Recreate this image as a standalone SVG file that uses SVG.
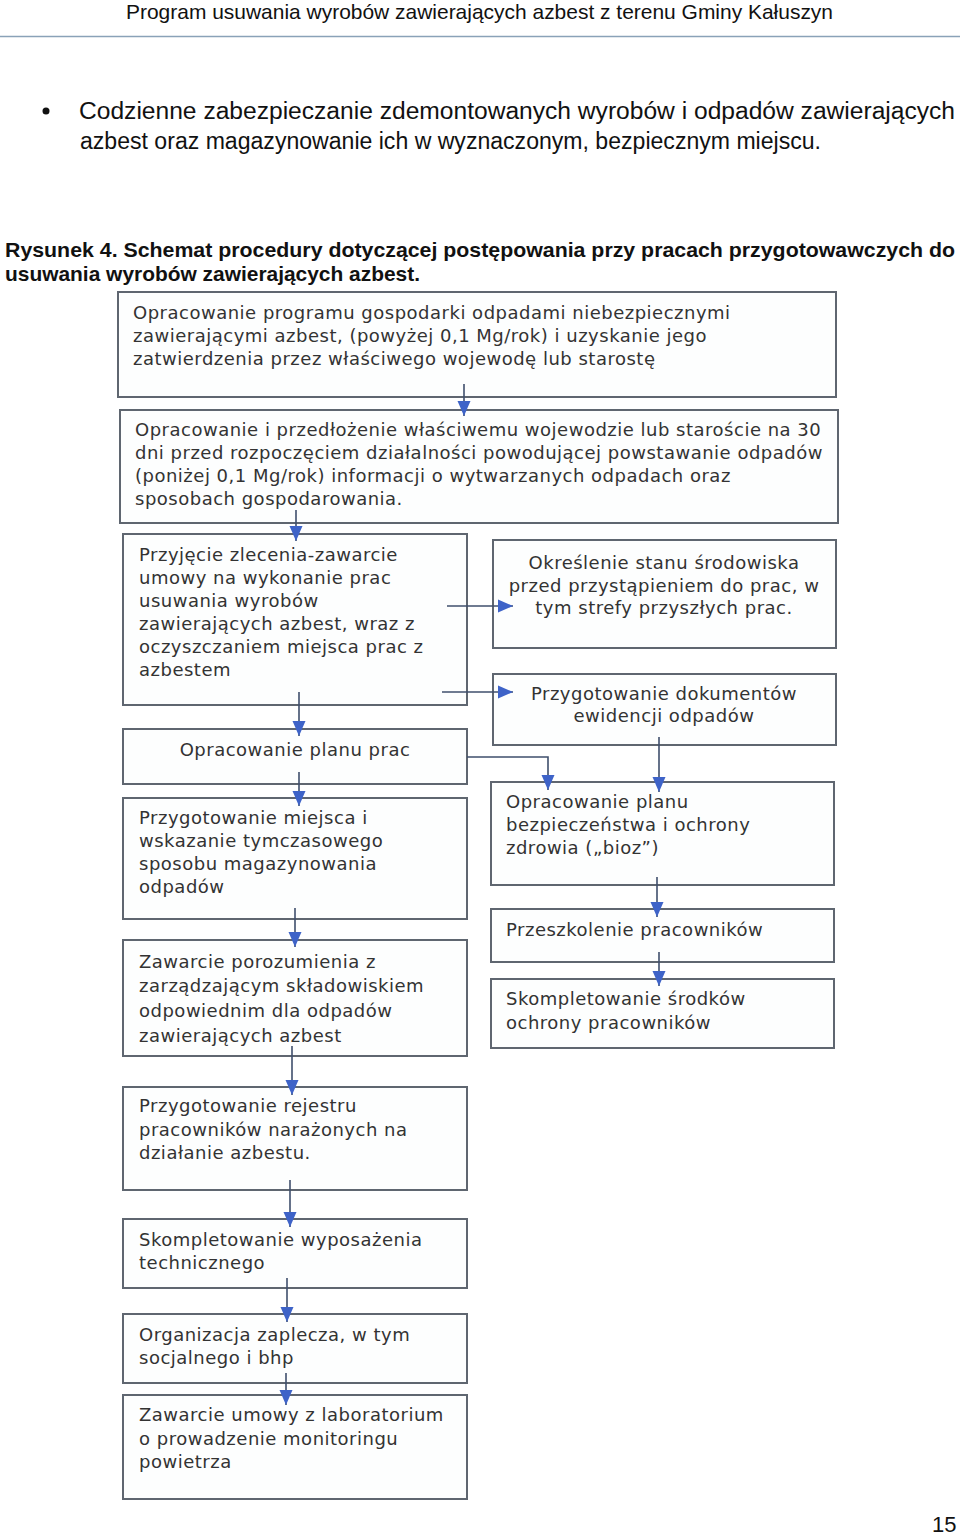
<svg xmlns="http://www.w3.org/2000/svg" width="960" height="1535" viewBox="0 0 960 1535">
<style>
.pg{font-family:"Liberation Sans",Arial,sans-serif;fill:#111}
.cap{font-family:"Liberation Sans",Arial,sans-serif;font-weight:bold;fill:#111}
.box{fill:#fdfefe;stroke:#5f6670;stroke-width:2}
.t{font-family:"DejaVu Sans",Verdana,sans-serif;font-size:18px;letter-spacing:0.5px;fill:#333}
.tc{font-family:"DejaVu Sans",Verdana,sans-serif;font-size:18px;letter-spacing:0.5px;fill:#333;text-anchor:middle}
.ln{fill:none;stroke:#3f4f6c;stroke-width:1.6}
</style>
<defs>
<marker id="ah" markerUnits="userSpaceOnUse" markerWidth="17" markerHeight="15" refX="16" refY="7.5" orient="auto" viewBox="0 0 17 15">
<path d="M1,1 L16,7.5 L1,14 Z" fill="#3e63c8"/>
</marker>
</defs>
<rect width="960" height="1535" fill="#ffffff"/>

<g id="page-header">
<text class="pg" x="126" y="19" font-size="21" textLength="707" lengthAdjust="spacingAndGlyphs">Program usuwania wyrobów zawierających azbest z terenu Gminy Kałuszyn</text>
<line x1="0" y1="36.5" x2="960" y2="36.5" stroke="#8aa2b8" stroke-width="1.5"/>
</g>
<g id="bullet">
<circle cx="46" cy="111" r="3.5" fill="#111"/>
<text class="pg" x="79" y="119" font-size="23" textLength="876" lengthAdjust="spacingAndGlyphs">Codzienne zabezpieczanie zdemontowanych wyrobów i odpadów zawierających</text>
<text class="pg" x="80" y="149" font-size="23" textLength="741" lengthAdjust="spacingAndGlyphs">azbest oraz magazynowanie ich w wyznaczonym, bezpiecznym miejscu.</text>
</g>
<g id="caption">
<text class="cap" x="5" y="257" font-size="21" textLength="950" lengthAdjust="spacingAndGlyphs">Rysunek 4. Schemat procedury dotyczącej postępowania przy pracach przygotowawczych do</text>
<text class="cap" x="5" y="281" font-size="21" textLength="415" lengthAdjust="spacingAndGlyphs">usuwania wyrobów zawierających azbest.</text>
</g>

<g id="n1">
<rect class="box" x="118" y="292" width="718" height="105"/>
<text class="t" x="133" y="319">Opracowanie programu gospodarki odpadami niebezpiecznymi</text>
<text class="t" x="133" y="342">zawierającymi azbest, (powyżej 0,1 Mg/rok) i uzyskanie jego</text>
<text class="t" x="133" y="365">zatwierdzenia przez właściwego wojewodę lub starostę</text>
</g>
<g id="n2">
<rect class="box" x="120" y="410" width="718" height="113"/>
<text class="t" x="135" y="436">Opracowanie i przedłożenie właściwemu wojewodzie lub staroście na 30</text>
<text class="t" x="135" y="459">dni przed rozpoczęciem działalności powodującej powstawanie odpadów</text>
<text class="t" x="135" y="482">(poniżej 0,1 Mg/rok) informacji o wytwarzanych odpadach oraz</text>
<text class="t" x="135" y="505">sposobach gospodarowania.</text>
</g>
<g id="n3">
<rect class="box" x="123" y="534" width="344" height="171"/>
<text class="t" x="139" y="561">Przyjęcie zlecenia-zawarcie</text>
<text class="t" x="139" y="584">umowy na wykonanie prac</text>
<text class="t" x="139" y="607">usuwania wyrobów</text>
<text class="t" x="139" y="630">zawierających azbest, wraz z</text>
<text class="t" x="139" y="653">oczyszczaniem miejsca prac z</text>
<text class="t" x="139" y="676">azbestem</text>
</g>
<g id="r1">
<rect class="box" x="493" y="540" width="343" height="108"/>
<text class="tc" x="664" y="569">Określenie stanu środowiska</text>
<text class="tc" x="664" y="592">przed przystąpieniem do prac, w</text>
<text class="tc" x="664" y="614">tym strefy przyszłych prac.</text>
</g>
<g id="r2">
<rect class="box" x="493" y="674" width="343" height="71"/>
<text class="tc" x="664" y="700">Przygotowanie dokumentów</text>
<text class="tc" x="664" y="722">ewidencji odpadów</text>
</g>
<g id="n4">
<rect class="box" x="123" y="729" width="344" height="55"/>
<text class="tc" x="295" y="756">Opracowanie planu prac</text>
</g>
<g id="r3">
<rect class="box" x="491" y="782" width="343" height="103"/>
<text class="t" x="506" y="808">Opracowanie planu</text>
<text class="t" x="506" y="831">bezpieczeństwa i ochrony</text>
<text class="t" x="506" y="854">zdrowia („bioz”)</text>
</g>
<g id="n5">
<rect class="box" x="123" y="798" width="344" height="121"/>
<text class="t" x="139" y="824">Przygotowanie miejsca i</text>
<text class="t" x="139" y="847">wskazanie tymczasowego</text>
<text class="t" x="139" y="870">sposobu magazynowania</text>
<text class="t" x="139" y="893">odpadów</text>
</g>
<g id="r4">
<rect class="box" x="491" y="909" width="343" height="53"/>
<text class="t" x="506" y="936">Przeszkolenie pracowników</text>
</g>
<g id="n6">
<rect class="box" x="123" y="940" width="344" height="116"/>
<text class="t" x="139" y="968">Zawarcie porozumienia z</text>
<text class="t" x="139" y="992">zarządzającym składowiskiem</text>
<text class="t" x="139" y="1017">odpowiednim dla odpadów</text>
<text class="t" x="139" y="1042">zawierających azbest</text>
</g>
<g id="r5">
<rect class="box" x="491" y="979" width="343" height="69"/>
<text class="t" x="506" y="1005">Skompletowanie środków</text>
<text class="t" x="506" y="1029">ochrony pracowników</text>
</g>
<g id="n7">
<rect class="box" x="123" y="1087" width="344" height="103"/>
<text class="t" x="139" y="1112">Przygotowanie rejestru</text>
<text class="t" x="139" y="1136">pracowników narażonych na</text>
<text class="t" x="139" y="1159">działanie azbestu.</text>
</g>
<g id="n8">
<rect class="box" x="123" y="1219" width="344" height="69"/>
<text class="t" x="139" y="1246">Skompletowanie wyposażenia</text>
<text class="t" x="139" y="1269">technicznego</text>
</g>
<g id="n9">
<rect class="box" x="123" y="1314" width="344" height="69"/>
<text class="t" x="139" y="1341">Organizacja zaplecza, w tym</text>
<text class="t" x="139" y="1364">socjalnego i bhp</text>
</g>
<g id="n10">
<rect class="box" x="123" y="1395" width="344" height="104"/>
<text class="t" x="139" y="1421">Zawarcie umowy z laboratorium</text>
<text class="t" x="139" y="1445">o prowadzenie monitoringu</text>
<text class="t" x="139" y="1468">powietrza</text>
</g>

<g id="connectors">
<path class="ln" d="M464,384 V416" marker-end="url(#ah)"/>
<path class="ln" d="M296,510 V541" marker-end="url(#ah)"/>
<path class="ln" d="M447,606 H513" marker-end="url(#ah)"/>
<path class="ln" d="M442,692 H513" marker-end="url(#ah)"/>
<path class="ln" d="M299,692 V736" marker-end="url(#ah)"/>
<path class="ln" d="M299,772 V806" marker-end="url(#ah)"/>
<path class="ln" d="M467,757 H548 V790" marker-end="url(#ah)"/>
<path class="ln" d="M659,737 V792" marker-end="url(#ah)"/>
<path class="ln" d="M295,908 V947" marker-end="url(#ah)"/>
<path class="ln" d="M657,877 V917" marker-end="url(#ah)"/>
<path class="ln" d="M659,952 V986" marker-end="url(#ah)"/>
<path class="ln" d="M292,1046 V1095" marker-end="url(#ah)"/>
<path class="ln" d="M290,1180 V1227" marker-end="url(#ah)"/>
<path class="ln" d="M287,1278 V1322" marker-end="url(#ah)"/>
<path class="ln" d="M286,1373 V1405" marker-end="url(#ah)"/>
</g>

<text class="pg" x="932" y="1532" font-size="22">15</text>
</svg>
